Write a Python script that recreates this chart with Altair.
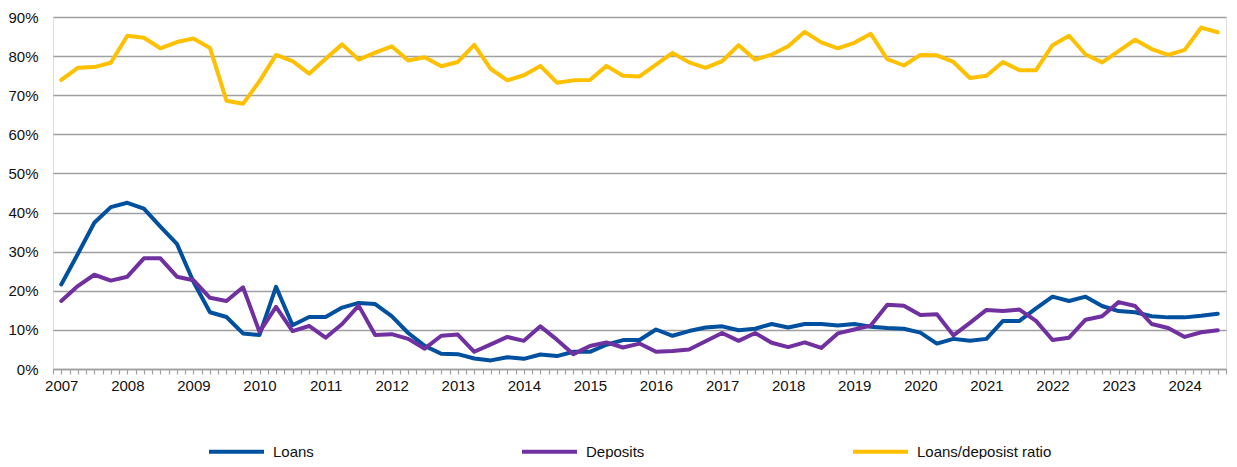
import altair as alt
import pandas as pd

years = list(range(2007, 2025))
quarters = [f"{y}Q{q}" for y in years for q in range(1, 5)][:71]

loans = [21.6, 29.4, 37.4, 41.4, 42.5, 41.0, 36.4, 32.0, 22.3, 14.5, 13.3, 9.1, 8.7, 21.0, 11.2, 13.3, 13.3, 15.7,
         16.9, 16.6, 13.5, 9.2, 5.9, 3.9, 3.8, 2.7, 2.2, 3.0, 2.6, 3.7, 3.3, 4.4, 4.4, 6.2, 7.4, 7.4,
         10.1, 8.5, 9.7, 10.6, 10.9, 9.9, 10.3, 11.5, 10.6, 11.5, 11.5, 11.1, 11.5, 10.8, 10.5, 10.3, 9.3,
         6.5, 7.7, 7.2, 7.7, 12.3, 12.3, 15.5, 18.5, 17.4, 18.5, 16.1, 14.8, 14.5, 13.5, 13.2, 13.2, 13.6, 14.1]

deposits = [17.4, 21.2, 24.1, 22.6, 23.6, 28.3, 28.3, 23.6, 22.7, 18.2, 17.4, 20.9, 9.5, 15.9, 9.7, 11.0, 8.0, 11.5,
            16.2, 8.7, 8.9, 7.7, 5.2, 8.5, 8.8, 4.4, 6.3, 8.2, 7.2, 10.9, 7.5, 3.8, 5.9, 6.8, 5.5, 6.5,
            4.4, 4.6, 5.0, 7.1, 9.2, 7.2, 9.2, 6.7, 5.6, 6.8, 5.4, 9.1, 10.1, 11.1, 16.4, 16.2, 13.8,
            14.0, 8.6, 11.8, 15.1, 14.8, 15.2, 12.3, 7.4, 8.0, 12.6, 13.5, 17.1, 16.1, 11.5, 10.5, 8.2, 9.4, 9.9]

ratio = [73.9, 77.0, 77.2, 78.3, 85.2, 84.7, 82.0, 83.6, 84.5, 82.1, 68.6, 67.8, 73.6, 80.3, 78.7, 75.5, 79.3, 83.0,
         79.1, 80.9, 82.5, 78.9, 79.7, 77.4, 78.5, 82.9, 76.7, 73.8, 75.1, 77.5, 73.2, 73.8, 73.9, 77.5, 75.0, 74.8,
         77.8, 80.8, 78.4, 77.0, 78.7, 82.8, 79.1, 80.4, 82.5, 86.2, 83.5, 82.0, 83.4, 85.7, 79.2, 77.6, 80.3,
         80.2, 78.5, 74.4, 75.0, 78.5, 76.4, 76.4, 82.8, 85.2, 80.4, 78.4, 81.3, 84.2, 81.8, 80.3, 81.6, 87.3, 86.1]

series_names = ["Loans", "Deposits", "Loans/deposist ratio"]
series_colors = ["#0050A0", "#7030A0", "#FFC000"]
y_ticks = [0, 10, 20, 30, 40, 50, 60, 70, 80, 90]

rows = []
for name, vals in zip(series_names, [loans, deposits, ratio]):
    for i, (q, v) in enumerate(zip(quarters, vals)):
        rows.append({"series": name, "quarter": q, "idx": i, "value": v})
df = pd.DataFrame(rows)

n = len(quarters)
tick_vals = [k * 0.5 - 0.5 for k in range(2 * n + 1)]

chart = alt.Chart(df).mark_line(strokeWidth=4, strokeJoin="round", strokeCap="round").encode(
    x=alt.X("idx:Q",
            scale=alt.Scale(domain=[-0.5, n - 0.5], nice=False, zero=False),
            axis=alt.Axis(values=tick_vals, title=None, grid=False,
                          labelExpr="datum.value % 4 === 0 ? toString(2007 + datum.value / 4) : ''",
                          labelOverlap=False, labelFlush=False, labelPadding=4,
                          tickSize=5, tickColor="#A0A0A0", tickWidth=1.2,
                          domainColor="#A0A0A0", domainWidth=1.3,
                          labelFont="Liberation Sans", labelFontSize=15, labelColor="#111111")),
    y=alt.Y("value:Q",
            scale=alt.Scale(domain=[0, 90], nice=False),
            axis=alt.Axis(values=y_ticks, title=None, labelExpr="datum.value + '%'",
                          grid=True, gridColor="#A0A0A0", gridWidth=1.3,
                          ticks=False, tickSize=0, domain=False, labelPadding=15,
                          labelFont="Liberation Sans", labelFontSize=15, labelColor="#111111")),
    color=alt.Color("series:N",
                    scale=alt.Scale(domain=series_names, range=series_colors),
                    sort=series_names,
                    legend=alt.Legend(title=None, orient="none", legendX=154, legendY=405,
                                      direction="horizontal", columns=3, columnPadding=200,
                                      symbolType="stroke", symbolSize=3025, symbolStrokeWidth=4,
                                      labelOffset=7, labelFont="Liberation Sans", labelFontSize=15,
                                      labelColor="#111111", padding=0, labelLimit=300)),
    order=alt.Order("idx:Q"),
).properties(
    width=1173, height=352,
    autosize=alt.AutoSizeParams(type="none"),
    padding={"left": 45, "top": 9, "right": 3, "bottom": 90},
).configure_view(stroke=None).configure(background="white")

chart.save("out.html", embed_options={"renderer": "svg", "actions": False})
